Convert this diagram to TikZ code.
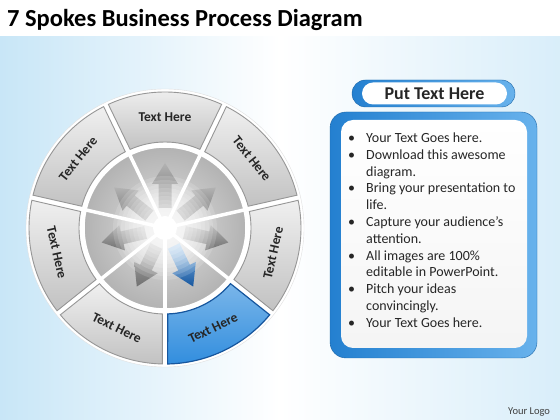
\documentclass[tikz,border=0pt]{standalone}
\usepackage{fontspec}
\setmainfont{Carlito}
\usepackage{tikz}
\usetikzlibrary{positioning}
\tikzstyle{wheel} = [x = 1pt, y = 1pt]
\definecolor{bgBlue}{RGB}{200,230,247}
\definecolor{frameBlue}{RGB}{36,128,208}
\definecolor{frameBlueLight}{RGB}{104,178,236}
\definecolor{segmentBlue}{RGB}{50,142,222}
\definecolor{segmentBlueDark}{RGB}{22,86,158}
\definecolor{ringLine}{RGB}{150,150,150}
\pgfdeclareradialshading{diskShade}{\pgfpointorigin}{color(0bp)=(black!12); color(25bp)=(black!30); color(50bp)=(black!44)}
\tikzstyle{segmentStyle} = [draw=ringLine, top color=black!6, bottom color=black!24, line width=.9pt]
\tikzstyle{segmentActive} = [draw=segmentBlueDark, top color=segmentBlue!65, bottom color=segmentBlue, line width=1.2pt]
\tikzstyle{arrowStyle} = [top color=black!30, bottom color=black!56]
\tikzstyle{arrowActive} = [top color=segmentBlue!55, bottom color=segmentBlueDark]
\tikzstyle{spokeLine} = [color=white, line width=3.5pt]
\tikzstyle{segmentText} = [font=\bfseries\fontsize{13.5}{14}\selectfont, text=black!85]
\tikzstyle{titleText} = [font=\bfseries\fontsize{24.5}{28}\selectfont, anchor=base west, inner sep=0]
\tikzstyle{headerText} = [font=\bfseries\fontsize{18}{20}\selectfont, text=black!85]
\tikzstyle{listText} = [font=\fontsize{14}{16.8}\selectfont, text=black!85, inner sep=0]
\tikzstyle{logoText} = [font=\fontsize{10.5}{12}\selectfont, text=black!75, anchor=base west, inner sep=0]
\newcommand{\rOut}{136}
\newcommand{\rIn}{86}
\newcommand{\ringSegment}[3]{\draw [#3] ({#1 + 1.1}:\rOut) arc [start angle = #1 + 1.1, end angle = #2 - 1.1, radius = \rOut] -- ({#2 - 1.8}:\rIn) arc [start angle = #2 - 1.8, end angle = #1 + 1.8, radius = \rIn] -- cycle;}
\newcommand{\spokeArrow}[2]{\path [#2, rotate = #1] (20,-6.5) -- (44,-6.5) -- (44,-13) -- (65,0) -- (44,13) -- (44,6.5) -- (20,6.5) -- cycle;}
\newcommand{\segmentLabel}[3]{\node [segmentText, rotate = #3] (#1) at (#2:111) {Text Here};}
\newcommand{\listBullet}{\makebox[18pt][l]{\textbullet}}

\begin{document}
\begin{tikzpicture}[wheel]
  \useasboundingbox (0,0) rectangle (560,420);
  \shade [left color=bgBlue, right color=bgBlue!70, middle color=white] (0,0) rectangle (560,420);
  \fill [white] (0,384) rectangle (560,420);
  \node [titleText] (title) at (7,393) {7 Spokes Business Process Diagram};

  \begin{scope}[shift={(165,192)}]
    \fill [white, draw=black!12] (0,0) circle (139);
    \shade [shading=diskShade] (0,0) circle (81);
    \foreach \k in {1,...,6} {
      \pgfmathsetmacro{\midAngle}{270 + \k * 360 / 7 + 180 / 7}
      \spokeArrow{\midAngle}{arrowStyle}
    }
    \spokeArrow{270 + 180 / 7}{arrowActive}
    \foreach \r in {8,12,...,52} {
      \fill [white, opacity=.15] (0,0) circle (\r);
    }
    \fill [white] (0,0) circle (12);
    \foreach \k in {0,...,6} {
      \pgfmathsetmacro{\gapAngle}{270 + \k * 360 / 7}
      \draw [spokeLine] (0,0) -- (\gapAngle:83);
    }
    \draw [white, line width=1.5pt] (0,0) circle (81);
    \ringSegment{270}{270 + 360 / 7}{segmentActive}
    \foreach \k in {1,...,6} {
      \pgfmathsetmacro{\startAngle}{270 + \k * 360 / 7}
      \pgfmathsetmacro{\endAngle}{\startAngle + 360 / 7}
      \ringSegment{\startAngle}{\endAngle}{segmentStyle}
    }
    \foreach \k in {0,...,6} {
      \pgfmathsetmacro{\midAngle}{270 + \k * 360 / 7 + 180 / 7}
      \pgfmathsetmacro{\labelRot}{mod(\midAngle,360) < 180 ? \midAngle - 90 : \midAngle + 90}
      \segmentLabel{segLabel\k}{\midAngle}{\labelRot}
    }
  \end{scope}

  \draw [draw=frameBlue!80!black, left color=frameBlue, right color=frameBlueLight, rounded corners=13.5] (352,313) rectangle (515,340);
  \fill [white, rounded corners=11] (362,315.5) rectangle (507,337.5);
  \node [headerText] (header) at (434.5,326.5) {Put Text Here};
  \draw [draw=frameBlue!80!black, left color=frameBlue, right color=frameBlueLight, rounded corners=16] (330,62) rectangle (537,308);
  \shade [top color=white, bottom color=black!4, rounded corners=12] (341,72) rectangle (527,300);
  \node [listText, anchor=north west] (bulletList) at (348,289.5) {%
    \begin{tabular}{@{}l@{}l@{}}
      \listBullet & Your Text Goes here.\\
      \listBullet & Download this awesome\\
      & diagram.\\
      \listBullet & Bring your presentation to\\
      & life.\\
      \listBullet & Capture your audience’s\\
      & attention.\\
      \listBullet & All images are 100\%\\
      & editable in PowerPoint.\\
      \listBullet & Pitch your ideas\\
      & convincingly.\\
      \listBullet & Your Text Goes here.
    \end{tabular}};
  \node [logoText] (logo) at (508,5.7) {Your Logo};
\end{tikzpicture}
\end{document}
